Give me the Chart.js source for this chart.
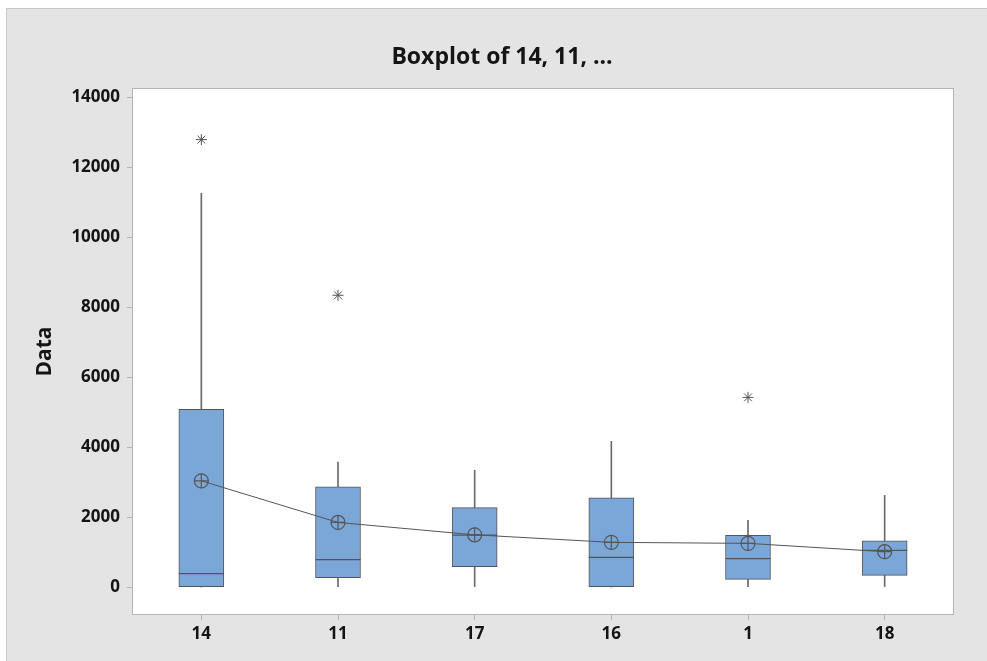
<!DOCTYPE html>
<html>
<head>
<meta charset="utf-8">
<script src="https://cdn.jsdelivr.net/npm/chart.js@4"></script>
<style>
  body { margin: 0; background: #fff; }
  #frame {
    position: absolute; left: 6px; top: 8px;
    width: 981px; height: 653px;
    background: #e4e4e4;
    border-left: 1px solid #c8c8c8; border-top: 1px solid #c8c8c8;
  }
  canvas { display: block; }
</style>
</head>
<body>
<div id="frame"><canvas id="myChart" width="981" height="653"></canvas></div>
<script>
// values
const categories = ["14", "11", "17", "16", "1", "18"];
const q1 = [0, 265, 585, 0, 220, 335];
const q3 = [5076, 2867, 2270, 2550, 1476, 1324];
const medians = [383, 785, 1486, 848, 810, 1048];
const whiskerLow = [0, 0, 0, 0, 0, 0];
const whiskerHigh = [11252, 3574, 3336, 4162, 1905, 2619];
const means = [3034, 1846, 1492, 1277, 1248, 1010];
const outlierCats = ["14", "11", "1"];
const outlierValues = [12784, 8336, 5419];
const yTicks = [0, 2000, 4000, 6000, 8000, 10000, 12000, 14000];

const FONT = "'Open Sans', 'Noto Sans', sans-serif";
const LINE = "#555555";

const ctx = document.getElementById("myChart");

// white plot area + gray frame round it, and the title text
const plotFrame = {
  id: "plotFrame",
  beforeDraw(chart) {
    const a = chart.chartArea, c = chart.ctx;
    c.save();
    c.fillStyle = "#ffffff";
    c.fillRect(a.left, a.top, a.right - a.left, a.bottom - a.top);
    c.restore();
  },
  afterDraw(chart) {
    const a = chart.chartArea, c = chart.ctx;
    c.save();
    c.strokeStyle = "#b4b4b4";
    c.lineWidth = 1;
    c.strokeRect(a.left - 0.5, a.top - 0.5, a.right - a.left + 1, a.bottom - a.top + 1);
    c.fillStyle = "#141414";
    c.font = "bold 23px " + FONT;
    c.textAlign = "center";
    c.textBaseline = "middle";
    c.fillText("Boxplot of 14, 11, ...", 495, 48);
    c.restore();
  },
};

const data = {
  labels: categories,
  datasets: [
    {
      type: "bar",
      label: "box",
      data: categories.map((c, i) => [q1[i], q3[i]]),
      backgroundColor: "#7ba7d8",
      borderColor: LINE,
      borderWidth: 1,
      borderSkipped: false,
      barThickness: 45,
      grouped: false,
      order: 5,
    },
    {
      type: "bar",
      label: "upper whisker",
      data: categories.map((c, i) => [q3[i], whiskerHigh[i]]),
      backgroundColor: "#6a6a6a",
      borderWidth: 0,
      barThickness: 1,
      grouped: false,
      order: 6,
    },
    {
      type: "bar",
      label: "lower whisker",
      data: categories.map((c, i) => [whiskerLow[i], q1[i]]),
      backgroundColor: "#6a6a6a",
      borderWidth: 0,
      barThickness: 1,
      grouped: false,
      order: 6,
    },
    {
      type: "line",
      label: "median",
      data: medians,
      showLine: false,
      pointStyle: "line",
      pointRadius: 22.5,
      borderColor: LINE,
      borderWidth: 1.2,
      order: 3,
    },
    {
      type: "line",
      label: "mean",
      data: means,
      borderColor: LINE,
      borderWidth: 1,
      pointStyle: "circle",
      pointRadius: 7,
      pointBackgroundColor: "rgba(0,0,0,0)",
      pointBorderColor: LINE,
      pointBorderWidth: 1.2,
      tension: 0,
      order: 2,
    },
    {
      type: "line",
      label: "mean cross",
      data: means,
      showLine: false,
      pointStyle: "cross",
      pointRadius: 7,
      borderColor: LINE,
      borderWidth: 1.2,
      order: 1,
    },
    {
      type: "line",
      label: "outliers",
      data: outlierCats.map((c, i) => ({ x: c, y: outlierValues[i] })),
      showLine: false,
      pointStyle: "star",
      pointRadius: 5.5,
      borderColor: "#555555",
      borderWidth: 1,
      order: 1,
    },
  ],
};

const myChart = new Chart(ctx, {
  data,
  plugins: [plotFrame],
  options: {
    responsive: false,
    animation: false,
    devicePixelRatio: 1,
    layout: { padding: { top: 80, right: 35, left: 0, bottom: 0 } },
    plugins: {
      legend: { display: false },
      tooltip: { enabled: false },
      title: { display: false },
    },
    scales: {
      x: {
        type: "category",
        offset: true,
        afterFit(scale) { scale.height = 48; },
        grid: { offset: false, drawOnChartArea: false, tickLength: 6, color: "#b4b4b4" },
        border: { display: false },
        ticks: { color: "#141414", padding: 4, font: { family: FONT, size: 17, weight: "bold" } },
      },
      y: {
        min: -770,
        max: 14230,
        afterFit(scale) { scale.width = 126; },
        afterBuildTicks(scale) { scale.ticks = yTicks.map((v) => ({ value: v })); },
        grid: { drawOnChartArea: false, tickLength: 6, color: "#b4b4b4" },
        border: { display: false },
        ticks: {
          color: "#141414",
          padding: 7,
          font: { family: FONT, size: 17, weight: "bold" },
          callback: (v) => String(v),
        },
        title: {
          display: true,
          text: "Data",
          color: "#141414",
          padding: { top: 25, bottom: 0 },
          font: { family: FONT, size: 21, weight: "bold" },
        },
      },
    },
  },
});
</script>
</body>
</html>
